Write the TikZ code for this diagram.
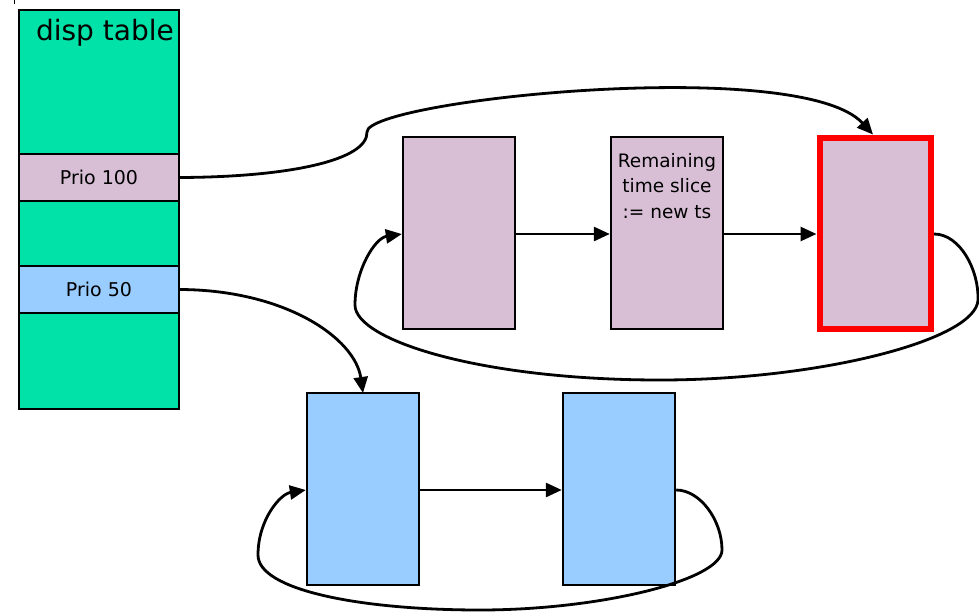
\documentclass[tikz,border=0pt]{standalone}
\usepackage{fontspec}
\setmainfont{DejaVu Sans}
\usetikzlibrary{arrows.meta}

\definecolor{tablegreen}{RGB}{0,226,168}
\definecolor{prioPink}{RGB}{216,191,214}
\definecolor{prioBlue}{RGB}{153,204,255}
\definecolor{hotred}{RGB}{255,0,0}

\tikzset{
  tablebox/.style={draw=black, line width=2.4pt, fill=tablegreen, rectangle, inner sep=0pt},
  rowbox/.style={draw=black, line width=2.4pt, rectangle, inner sep=0pt,
                 minimum width=160pt, font=\fontsize{19}{22}\selectfont},
  taskbox/.style={draw=black, line width=2.4pt, rectangle, inner sep=0pt,
                  minimum width=112pt, minimum height=192pt},
  conn/.style={draw=black, line width=2.8pt, -{Triangle[length=16pt,width=14pt]}},
}

\begin{document}
\begin{tikzpicture}[x=1pt,y=-1pt]
  \useasboundingbox (0,0) rectangle (979,613);
  \fill[white] (0,0) rectangle (979,613);

  % small mark at the top-left corner
  \draw[line width=1pt] (14,0) -- (14,4);

  % dispatcher table
  \node[tablebox, minimum width=160pt, minimum height=399pt] (tbl) at (99,209.5) {};
  \node[anchor=base east, inner sep=0pt, font=\fontsize{28}{30}\selectfont] (title) at (174,40) {disp table};
  \node[rowbox, fill=prioPink, minimum height=47.5pt] (r100) at (99,177.5) {Prio 100};
  \node[rowbox, fill=prioBlue, minimum height=47pt] (r50) at (99,289.5) {Prio 50};

  % priority 100 queue
  \node[taskbox, fill=prioPink] (p1) at (459,233) {};
  \node[taskbox, fill=prioPink] (p2) at (667,233) {};
  \node[draw=hotred, line width=6pt, fill=prioPink, rectangle, inner sep=0pt,
        minimum width=111.5pt, minimum height=191.5pt] (p3) at (875.25,233.25) {};
  \node[anchor=north, inner sep=0pt, align=center,
        font=\fontsize{18.5}{25.5}\selectfont] (p2txt) at (667,153) {Remaining\\time slice\\:= new ts};

  % priority 50 queue
  \node[taskbox, fill=prioBlue] (b1) at (363,489) {};
  \node[taskbox, fill=prioBlue] (b2) at (619,489) {};

  % links inside the queues
  \draw[conn] (p1.east |- 0,234) -- (p2.west |- 0,234);
  \draw[conn] (p2.east |- 0,234) -- (p3.west |- 0,234);
  \draw[conn] (b1.east |- 0,490) -- (b2.west |- 0,490);

  % table entries pointing to their queues
  \draw[conn] (r100.east) .. controls (290,177) and (368,160) .. (367,132)
              .. controls (367,100) and (800,55) .. (873,134.5);
  \draw[conn] (r50.east) .. controls (285,290) and (355,338) .. (363,393);

  % circular wrap-around of each queue
  \draw[conn] (p3.east |- 0,234) .. controls (960,234) and (979,270) .. (978,300)
              .. controls (976,340) and (820,380) .. (660,380)
              .. controls (480,380) and (355,340) .. (355,305)
              .. controls (355,270) and (375,238) .. (p1.west |- 0,234);
  \draw[conn] (b2.east |- 0,490) .. controls (700,490) and (722,520) .. (722,550)
              .. controls (722,580) and (600,610) .. (480,610)
              .. controls (360,610) and (258,590) .. (258,555)
              .. controls (258,520) and (280,494) .. (b1.west |- 0,490);
\end{tikzpicture}
\end{document}
